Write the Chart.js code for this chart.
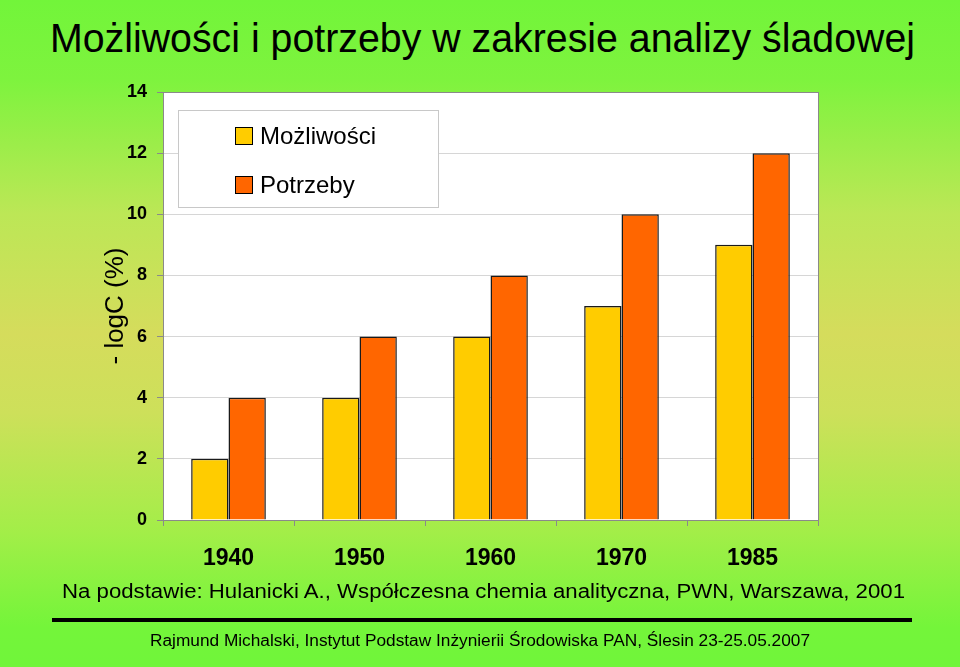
<!DOCTYPE html>
<html>
<head>
<meta charset="utf-8">
<script src="https://cdn.jsdelivr.net/npm/chart.js"></script>
<style>
  html, body { margin: 0; padding: 0; }
  body {
    width: 960px; height: 667px; overflow: hidden; position: relative;
    font-family: Arial, "Liberation Sans", sans-serif;
    background: linear-gradient(to bottom, #72f53a 0%, #7ef33e 12%, #bce756 32%, #d5dc5c 50%, #cde05a 62%, #a2ee48 80%, #74f53a 94%, #70f53a 100%);
  }
  #chartBox { position: absolute; left: 0; top: 0; width: 960px; height: 667px; }
  .txt { position: absolute; white-space: nowrap; color: #000; transform-origin: left top; }
  #title { left: 50px; top: 16px; font-size: 40px; }
  #source { left: 62px; top: 580px; font-size: 20px; }
  #footer { left: 150px; top: 632px; font-size: 16px; }
  #rule { position: absolute; left: 52px; top: 618px; width: 860px; height: 4px; background: #000; }
</style>
</head>
<body>
<div id="title" class="txt">Możliwości i potrzeby w zakresie analizy śladowej</div>
<div id="chartBox"><canvas id="chart" width="960" height="667"></canvas></div>
<div id="source" class="txt">Na podstawie: Hulanicki A., Współczesna chemia analityczna, PWN, Warszawa, 2001</div>
<div id="rule"></div>
<div id="footer" class="txt">Rajmund Michalski, Instytut Podstaw Inżynierii Środowiska PAN, Ślesin 23-25.05.2007</div>
<script>
// data
const years = ['1940', '1950', '1960', '1970', '1985'];
const mozliwosci = [2, 4, 6, 7, 9];
const potrzeby = [4, 6, 8, 10, 12];
const seriesNames = ['Możliwości', 'Potrzeby'];
const yTicks = [0, 2, 4, 6, 8, 10, 12, 14];

// squeeze text blocks to the widths seen in the reference
function fitWidth(id, w) {
  const el = document.getElementById(id);
  const real = el.getBoundingClientRect().width;
  el.style.transform = 'scaleX(' + (w / real) + ')';
}
fitWidth('title', 865);
fitWidth('source', 843);
fitWidth('footer', 660);

// white plot area with grey frame
const plotBg = {
  id: 'plotBg',
  beforeDraw(chart) {
    const { ctx, chartArea: a } = chart;
    ctx.save();
    ctx.fillStyle = '#ffffff';
    ctx.fillRect(a.left, a.top, a.right - a.left, a.bottom - a.top);
    ctx.restore();
  },
  afterDraw(chart) {
    const { ctx, chartArea: a } = chart;
    ctx.save();
    ctx.strokeStyle = '#8a8a8a';
    ctx.lineWidth = 1;
    ctx.strokeRect(a.left + 0.5, a.top + 0.5, a.right - a.left, a.bottom - a.top);
    ctx.restore();
  }
};

// legend box sitting inside the plot, top left
const boxLegend = {
  id: 'boxLegend',
  afterDraw(chart) {
    const { ctx, chartArea: a } = chart;
    const x = a.left + 15, y = a.top + 18;
    ctx.save();
    ctx.fillStyle = '#ffffff';
    ctx.fillRect(x, y, 260, 97);
    ctx.strokeStyle = '#c8c8c8';
    ctx.lineWidth = 1;
    ctx.strokeRect(x + 0.5, y + 0.5, 260, 97);
    ctx.font = '24px Arial, "Liberation Sans", sans-serif';
    ctx.textBaseline = 'middle';
    chart.data.datasets.forEach((ds, i) => {
      const cy = y + 26 + i * 49;
      ctx.fillStyle = ds.backgroundColor;
      ctx.fillRect(x + 57, cy - 9, 17, 17);
      ctx.strokeStyle = '#000';
      ctx.strokeRect(x + 57.5, cy - 8.5, 17, 17);
      ctx.fillStyle = '#000';
      ctx.fillText(ds.label, x + 82, cy + 1);
    });
    ctx.restore();
  }
};

new Chart(document.getElementById('chart'), {
  type: 'bar',
  data: {
    labels: years,
    datasets: [
      { label: seriesNames[0], data: mozliwosci, backgroundColor: '#ffcc00', borderColor: '#1a1a1a', borderWidth: 1.5 },
      { label: seriesNames[1], data: potrzeby, backgroundColor: '#ff6600', borderColor: '#1a1a1a', borderWidth: 1.5 }
    ]
  },
  options: {
    responsive: false,
    animation: false,
    categoryPercentage: 0.57,
    barPercentage: 1,
    layout: { padding: { left: 0, top: 92, right: 142, bottom: 87 } },
    plugins: { legend: { display: false }, tooltip: { enabled: false } },
    scales: {
      x: {
        afterFit(s) { s.height = 60; },
        border: { color: '#8a8a8a' },
        grid: { offset: true, drawOnChartArea: false, tickLength: 6, tickColor: '#8a8a8a' },
        ticks: { color: '#000', padding: 19, font: { family: 'Arial, "Liberation Sans", sans-serif', size: 23, weight: 'bold' } }
      },
      y: {
        min: 0,
        max: 14,
        afterFit(s) { s.width = 163; },
        afterBuildTicks(s) { s.ticks = yTicks.map(v => ({ value: v })); },
        border: { color: '#8a8a8a' },
        grid: { color: '#d6d6d6', tickColor: '#8a8a8a', tickLength: 6 },
        ticks: { color: '#000', padding: 10, font: { family: 'Arial, "Liberation Sans", sans-serif', size: 18, weight: 'bold' } },
        title: {
          display: true,
          text: '- logC (%)',
          color: '#000',
          padding: { top: 100, bottom: 0 },
          font: { family: 'Arial, "Liberation Sans", sans-serif', size: 26 }
        }
      }
    }
  },
  plugins: [plotBg, boxLegend]
});
</script>
</body>
</html>
